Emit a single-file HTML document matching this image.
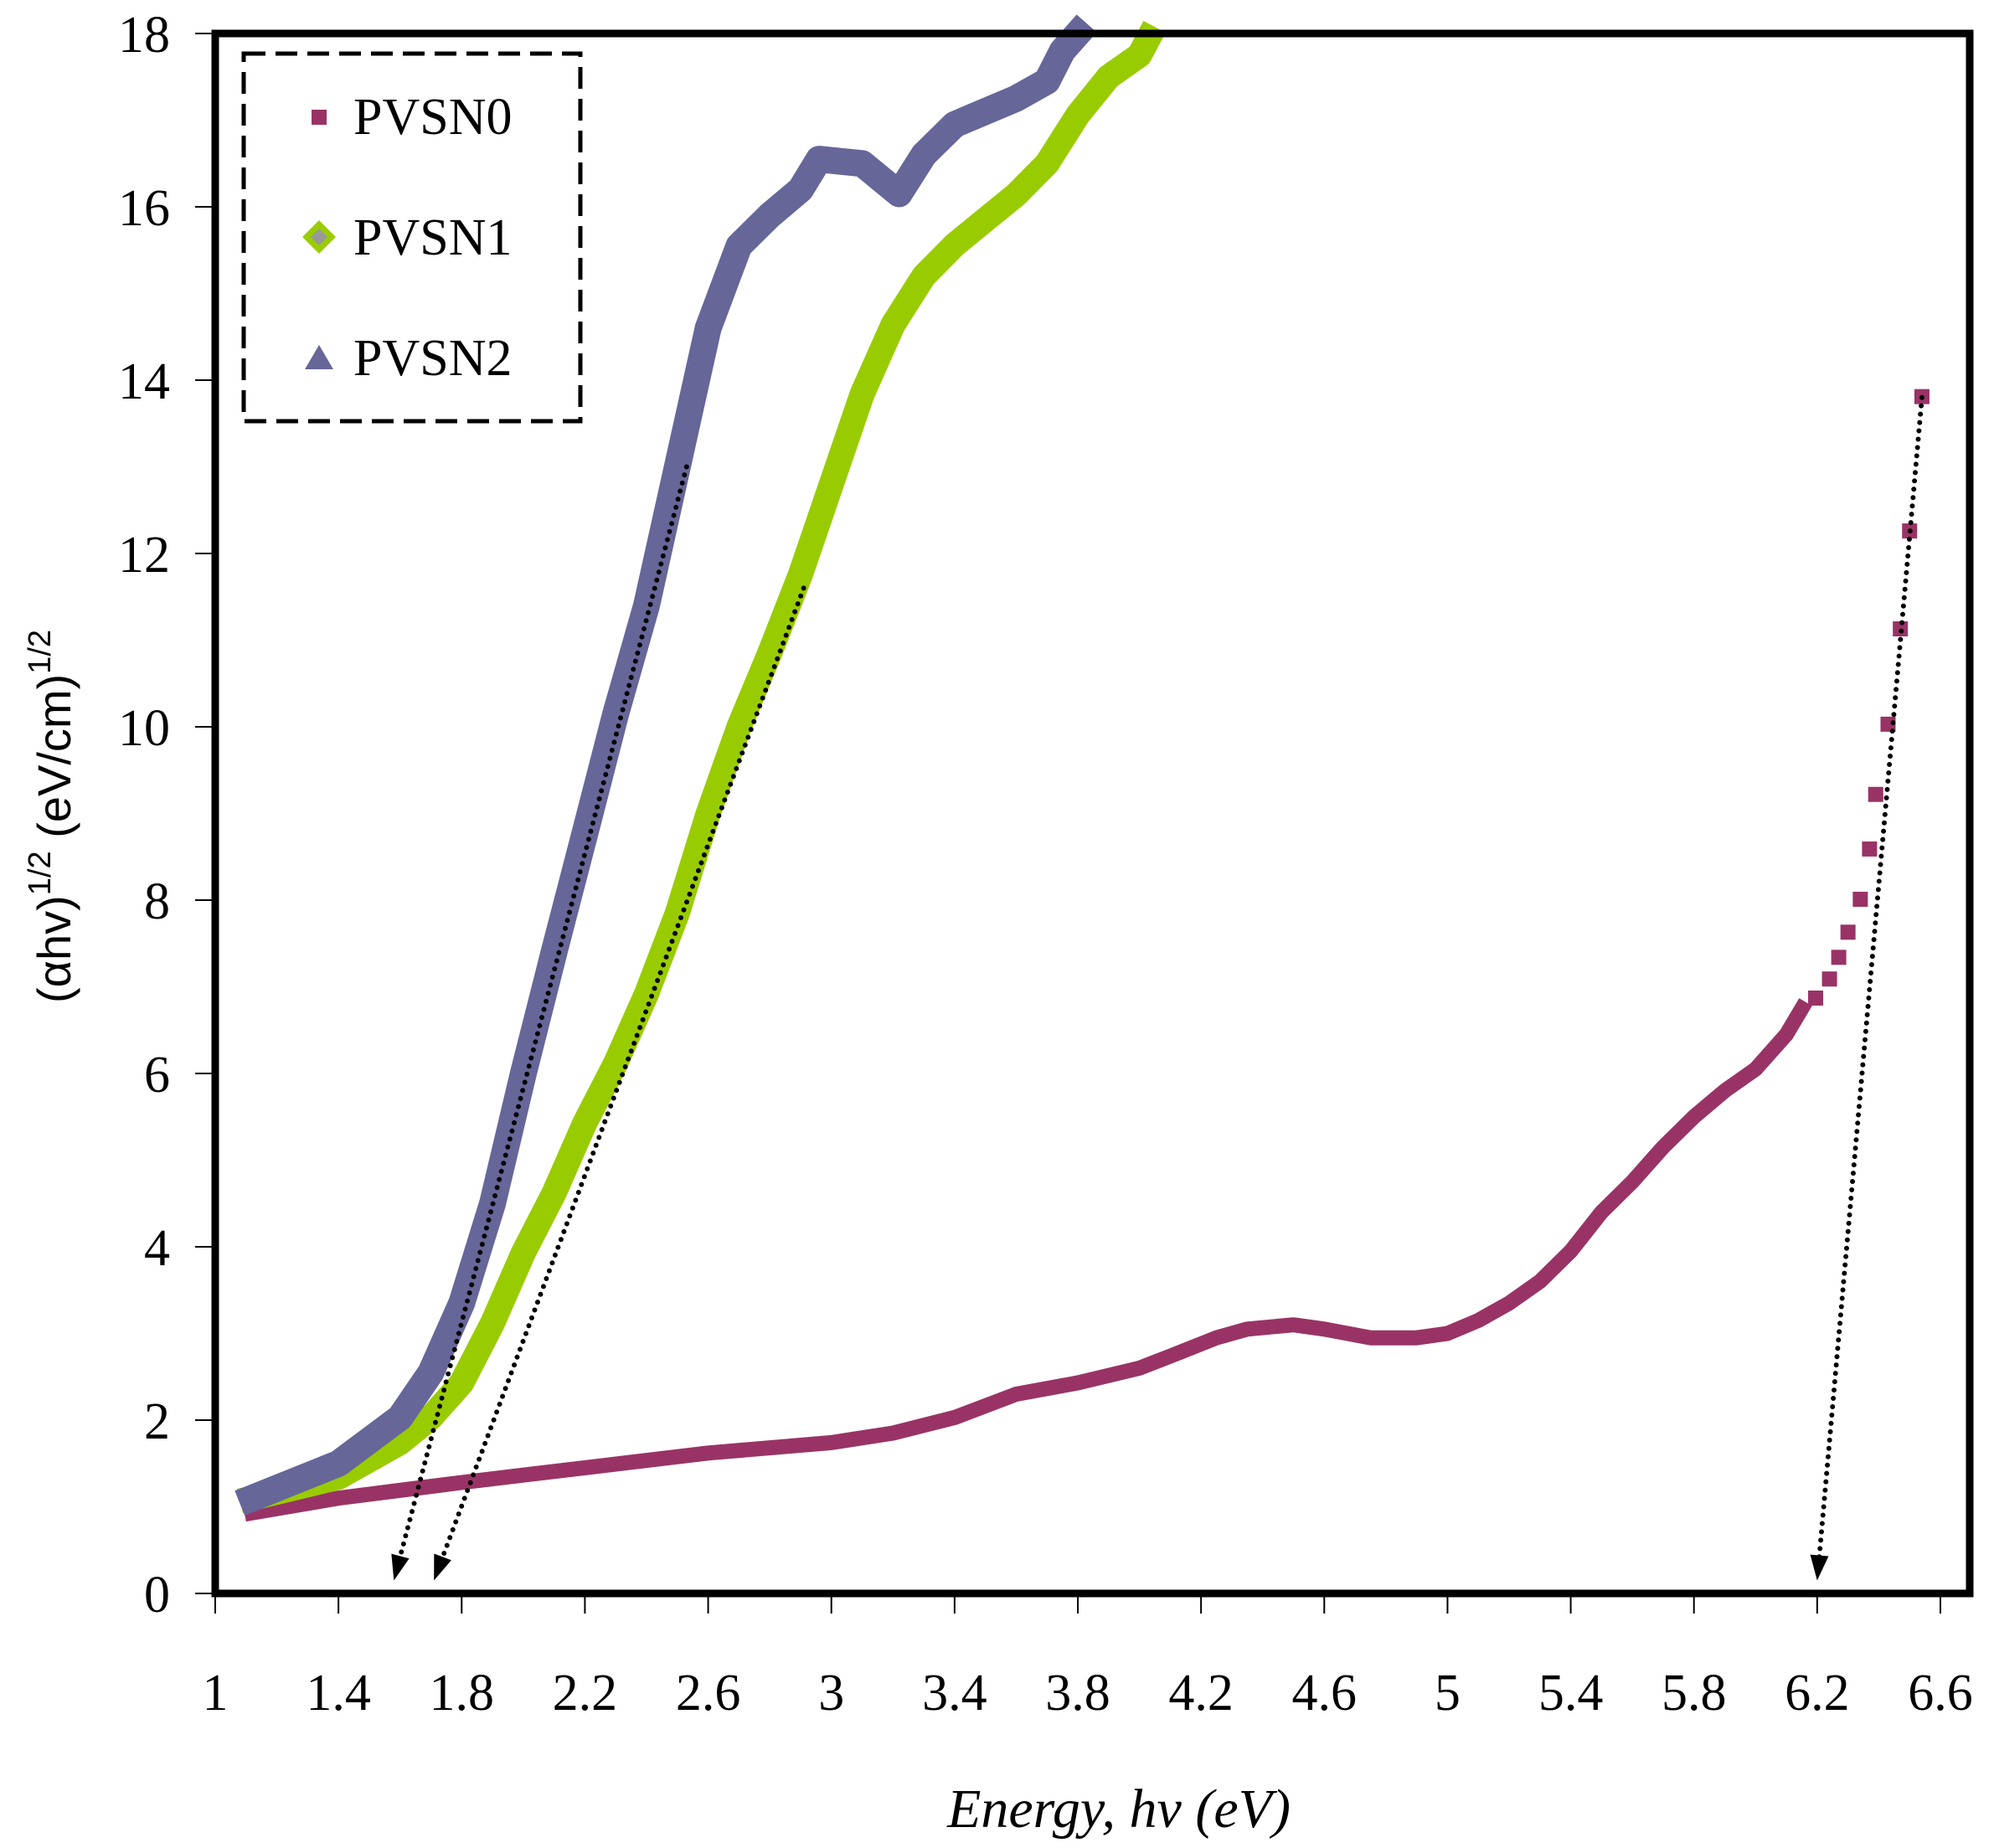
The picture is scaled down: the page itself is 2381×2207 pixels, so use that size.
<!DOCTYPE html>
<html><head><meta charset="utf-8"><style>
html,body{margin:0;padding:0;background:#fff;}
svg{display:block;}
</style></head><body>
<svg id="chart" width="2381" height="2207" viewBox="0 0 2381 2207" xmlns="http://www.w3.org/2000/svg">
<g id="marks"></g>
<g id="axes"></g>
<text x="1336" y="2182" text-anchor="middle" font-family="Liberation Serif, serif" font-style="italic" font-size="66">Energy, hv (eV)</text>
<text transform="translate(84,975) rotate(-90)" text-anchor="middle" font-family="Liberation Sans, sans-serif" font-size="56">(αhv)<tspan dy="-24" font-size="38">1/2</tspan><tspan dy="24"> (eV/cm)</tspan><tspan dy="-24" font-size="38">1/2</tspan></text>
<g>
<rect x="291" y="64" width="402" height="439" fill="#fff" stroke="#000" stroke-width="5" stroke-dasharray="26,12"/>
<g><rect x="372" y="131" width="18" height="18" fill="#993366"/><text x="422" y="160" font-family="Liberation Serif, serif" font-size="62">PVSN0</text></g>
<g><polygon points="381,268 396,283 381,298 366,283" fill="#999" stroke="#99cc00" stroke-width="7"/><text x="422" y="304" font-family="Liberation Serif, serif" font-size="62">PVSN1</text></g>
<g><polygon points="381,412 398,441 364,441" fill="#666699"/><text x="422" y="448" font-family="Liberation Serif, serif" font-size="62">PVSN2</text></g>
</g>
</svg>
<script>
const xTicks=[1,1.4,1.8,2.2,2.6,3,3.4,3.8,4.2,4.6,5,5.4,5.8,6.2,6.6];
const xTickLabels=["1","1.4","1.8","2.2","2.6","3","3.4","3.8","4.2","4.6","5","5.4","5.8","6.2","6.6"];
const yTicks=[0,2,4,6,8,10,12,14,16,18];
const yTickLabels=["0","2","4","6","8","10","12","14","16","18"];
const pvsn0X=[1.12,1.4,1.8,2.2,2.6,3.0,3.2,3.4,3.6,3.8,4.0,4.13,4.25,4.35,4.5,4.6,4.75,4.9,5.0,5.1,5.2,5.3,5.4,5.5,5.6,5.7,5.8,5.9,6.0,6.1,6.15];
const pvsn0Y=[0.93,1.1,1.28,1.45,1.62,1.74,1.85,2.03,2.3,2.43,2.6,2.78,2.95,3.05,3.1,3.05,2.95,2.95,3.0,3.15,3.35,3.6,3.95,4.4,4.75,5.15,5.5,5.8,6.05,6.45,6.75];
const pvsn0SparseX=[6.195,6.24,6.27,6.30,6.34,6.37,6.39,6.43,6.47,6.50,6.54];
const pvsn0SparseY=[6.87,7.09,7.34,7.63,8.01,8.59,9.22,10.03,11.13,12.26,13.81];
const pvsn1X=[1.12,1.4,1.6,1.7,1.8,1.9,2.0,2.1,2.2,2.3,2.4,2.5,2.6,2.7,2.8,2.9,3.0,3.1,3.2,3.3,3.4,3.5,3.6,3.7,3.8,3.9,4.0,4.03];
const pvsn1Y=[1.1,1.34,1.74,2.03,2.43,3.12,3.93,4.62,5.43,6.12,6.92,7.85,9.0,10.0,10.85,11.76,12.8,13.84,14.64,15.2,15.56,15.85,16.14,16.5,17.06,17.5,17.75,17.95];
const pvsn2X=[1.12,1.4,1.6,1.7,1.8,1.9,2.0,2.1,2.2,2.3,2.4,2.5,2.6,2.7,2.8,2.9,2.96,3.1,3.22,3.3,3.4,3.5,3.6,3.7,3.75,3.8];
const pvsn2Y=[1.1,1.5,2.03,2.55,3.35,4.5,6.0,7.4,8.77,10.15,11.4,13.0,14.6,15.55,15.9,16.2,16.55,16.5,16.15,16.6,16.95,17.1,17.25,17.45,17.8,18.0];
const arrowX0=[2.53,2.91,6.54];
const arrowY0=[13.0,11.6,13.8];
const arrowX1=[1.58,1.71,6.2];
const arrowY1=[0.15,0.15,0.15];

const X0=257,X1=2317,Y0=1903,Y1=40;
function sx(v){return X0+(v-1)/(6.6-1)*(X1-X0);}
function sy(v){return Y0-v/18*(Y0-Y1);}
const NS="http://www.w3.org/2000/svg";
function mk(tag,attrs,parent){const e=document.createElementNS(NS,tag);for(const k in attrs)e.setAttribute(k,attrs[k]);parent.appendChild(e);return e;}
const marks=document.getElementById('marks'),axes=document.getElementById('axes');

function series(xs,ys,color,w,name){
  const pts=xs.map((x,i)=>sx(x).toFixed(1)+","+sy(ys[i]).toFixed(1)).join(" ");
  const pl=mk('polyline',{points:pts,fill:'none',stroke:color,'stroke-width':w,'stroke-linejoin':'round','stroke-linecap':'square'},marks);
  
  
}
series(pvsn0X,pvsn0Y,'#993366',18,'pvsn0-series');
pvsn0SparseX.forEach((x,i)=>{
  const r=mk('rect',{x:sx(x)-9,y:sy(pvsn0SparseY[i])-9,width:18,height:18,fill:'#993366'},marks);
  
  
});
series(pvsn1X,pvsn1Y,'#99cc00',30,'pvsn1-series');
series(pvsn2X,pvsn2Y,'#666699',32,'pvsn2-series');

arrowX0.forEach((x,i)=>{
  const ax=sx(x),ay=sy(arrowY0[i]),bx=sx(arrowX1[i]),by=sy(arrowY1[i]);
  const dx=bx-ax,dy=by-ay,L=Math.hypot(dx,dy),ux=dx/L,uy=dy/L;
  const l=mk('line',{x1:ax,y1:ay,x2:bx-ux*22,y2:by-uy*22,stroke:'#000','stroke-width':6,'stroke-dasharray':'0,10','stroke-linecap':'round'},marks);
  
  
  const hx=bx-ux*30,hy=by-uy*30;
  const p=mk('polygon',{points:`${bx},${by} ${hx-uy*11},${hy+ux*11} ${hx+uy*11},${hy-ux*11}`,fill:'#000'},marks);
  
  
});

const frame=mk('rect',{x:X0,y:Y1,width:2352-X0,height:Y0-Y1,fill:'none',stroke:'#000','stroke-width':9},axes);


xTicks.forEach((t,i)=>{
  const x=sx(t);
  const tk=mk('line',{x1:x,y1:Y0,x2:x,y2:Y0+24,stroke:'#000','stroke-width':2},axes);
  
  
  const tx=mk('text',{x:x,y:2042,'text-anchor':'middle','font-family':'Liberation Serif, serif','font-size':62},axes);
  tx.textContent=xTickLabels[i];
  
  
});
yTicks.forEach((t,i)=>{
  const y=sy(t);
  const tk=mk('line',{x1:X0-24,y1:y,x2:X0,y2:y,stroke:'#000','stroke-width':2},axes);
  
  
  const tx=mk('text',{x:203,y:y+22,'text-anchor':'end','font-family':'Liberation Serif, serif','font-size':62},axes);
  tx.textContent=yTickLabels[i];
  
  
});
</script>
</body></html>
